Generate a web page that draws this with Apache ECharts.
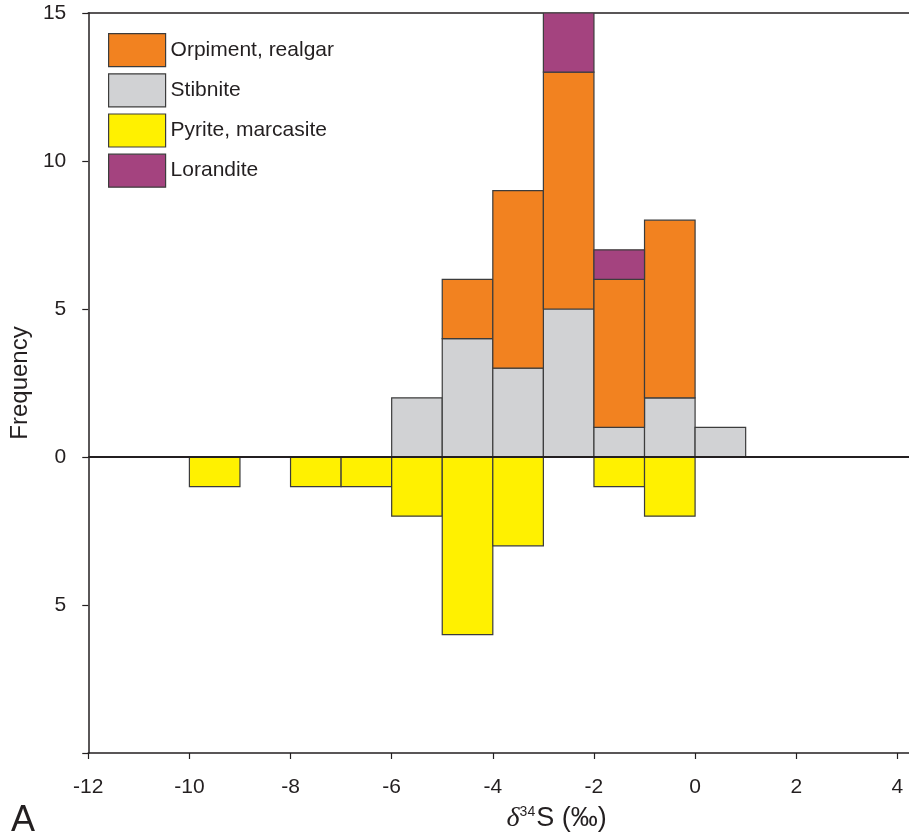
<!DOCTYPE html>
<html>
<head>
<meta charset="utf-8">
<script src="https://cdn.jsdelivr.net/npm/echarts@6/dist/echarts.min.js"></script>
<style>
  html, body { margin: 0; padding: 0; background: #fff; }
  #main { width: 909px; height: 838px; }
</style>
</head>
<body>
<div id="main"></div>
<script>
// left edge of each 1 permil bin
var binLeft = [-10, -9, -8, -7, -6, -5, -4, -3, -2, -1, 0];
// counts above the zero line (stacked: stibnite, orpiment, lorandite)
var stibnite = [0, 0, 0, 0, 2, 4, 3, 5, 1, 2, 1];
var orpiment = [0, 0, 0, 0, 0, 2, 6, 8, 5, 6, 0];
var lorandite = [0, 0, 0, 0, 0, 0, 0, 2, 1, 0, 0];
// counts below the zero line
var pyrite = [1, 0, 1, 1, 2, 6, 3, 0, 1, 2, 0];
// tick positions on the delta axis
var xTicks = [-12, -10, -8, -6, -4, -2, 0, 2, 4];

var xMin = -12, xMax = 4.23;
var yMin = -10, yMax = 15;

var ink = '#231f20';
var edge = '#3c3c3c';
var fontMain = "'Liberation Sans', Arial, sans-serif";

// turn counts into [x0, x1, y0, y1] boxes on top of a running base
function boxes(vals, base, sign) {
  var out = [];
  for (var i = 0; i < vals.length; i++) {
    if (!vals[i]) continue;
    var y0 = base ? base[i] : 0;
    out.push([binLeft[i], binLeft[i] + 1, y0, y0 + sign * vals[i]]);
  }
  return out;
}
var base1 = stibnite.slice();
var base2 = stibnite.map(function (v, i) { return v + orpiment[i]; });

function renderBin(params, api) {
  var a = api.coord([api.value(0), api.value(3)]);
  var b = api.coord([api.value(1), api.value(2)]);
  return {
    type: 'rect',
    shape: {
      x: a[0],
      y: Math.min(a[1], b[1]),
      width: b[0] - a[0],
      height: Math.abs(b[1] - a[1])
    },
    style: { fill: api.visual('color'), stroke: edge, lineWidth: 1.2 }
  };
}

function binSeries(name, color, data) {
  return {
    name: name,
    type: 'custom',
    renderItem: renderBin,
    clip: true,
    itemStyle: { color: color },
    encode: { x: [0, 1], y: [2, 3] },
    data: data
  };
}

var chart = echarts.init(document.getElementById('main'), null, { renderer: 'canvas' });

var option = {
  animation: false,
  backgroundColor: '#fff',
  textStyle: { fontFamily: fontMain, color: ink },
  grid: { left: 86, right: 0, top: 13, bottom: 84, containLabel: false },
  legend: {
    orient: 'vertical',
    left: 108,
    top: 33,
    padding: 0,
    itemWidth: 57,
    itemHeight: 33,
    itemGap: 6,
    icon: 'rect',
    itemStyle: { borderColor: edge, borderWidth: 1.2 },
    textStyle: { fontSize: 21, color: ink, fontFamily: fontMain },
    data: ['Orpiment, realgar', 'Stibnite', 'Pyrite, marcasite', 'Lorandite']
  },
  xAxis: [{
    type: 'value',
    min: xMin,
    max: xMax,
    interval: 2,
    name: '{d|δ}{s|34}{n|S (‰)}',
    nameLocation: 'middle',
    nameGap: 52,
    nameTextStyle: {
      padding: [0, 0, 0, 116],
      rich: {
        d: { fontSize: 28, fontStyle: 'italic', fontFamily: "'Liberation Serif', serif", color: ink },
        s: { fontSize: 14, fontFamily: fontMain, color: ink, verticalAlign: 'top', padding: [0, 1, 0, 0] },
        n: { fontSize: 27, fontFamily: fontMain, color: ink }
      }
    },
    axisLine: { onZero: false, lineStyle: { color: ink, width: 1.5 } },
    axisTick: { length: 6, customValues: xTicks, lineStyle: { color: ink, width: 1.2 } },
    axisLabel: {
      margin: 24,
      fontSize: 21,
      fontFamily: fontMain,
      color: ink,
      customValues: xTicks,
      formatter: function (v) { return String(v); }
    },
    splitLine: { show: false }
  }, {
    type: 'value',
    position: 'top',
    min: xMin,
    max: xMax,
    axisLine: { show: true, onZero: false, lineStyle: { color: ink, width: 1.5 } },
    axisTick: { show: false },
    axisLabel: { show: false },
    splitLine: { show: false }
  }],
  yAxis: {
    type: 'value',
    min: yMin,
    max: yMax,
    interval: 5,
    name: 'Frequency',
    nameLocation: 'middle',
    nameGap: 44,
    nameTextStyle: { fontSize: 24, color: ink, fontFamily: fontMain },
    axisLine: { onZero: false, lineStyle: { color: ink, width: 1.5 } },
    axisTick: { length: 6, lineStyle: { color: ink, width: 1.2 } },
    axisLabel: {
      margin: 22,
      fontSize: 21,
      color: ink,
      fontFamily: fontMain,
      formatter: function (v) { return v === yMin ? '' : String(Math.abs(v)); }
    },
    splitLine: { show: false }
  },
  graphic: [{
    type: 'text',
    left: 11,
    top: 803,
    style: { text: 'A', fontSize: 36, fontFamily: fontMain, fill: ink }
  }],
  series: [
    binSeries('Stibnite', '#d1d2d4', boxes(stibnite, null, 1)),
    binSeries('Orpiment, realgar', '#f28220', boxes(orpiment, base1, 1)),
    binSeries('Lorandite', '#a4437f', boxes(lorandite, base2, 1)),
    binSeries('Pyrite, marcasite', '#fff100', boxes(pyrite, null, -1)),
    {
      // zero line
      type: 'line',
      z: 5,
      silent: true,
      symbol: 'none',
      lineStyle: { color: ink, width: 2 },
      data: [[xMin, 0], [xMax, 0]]
    }
  ]
};

chart.setOption(option);
</script>
</body>
</html>
